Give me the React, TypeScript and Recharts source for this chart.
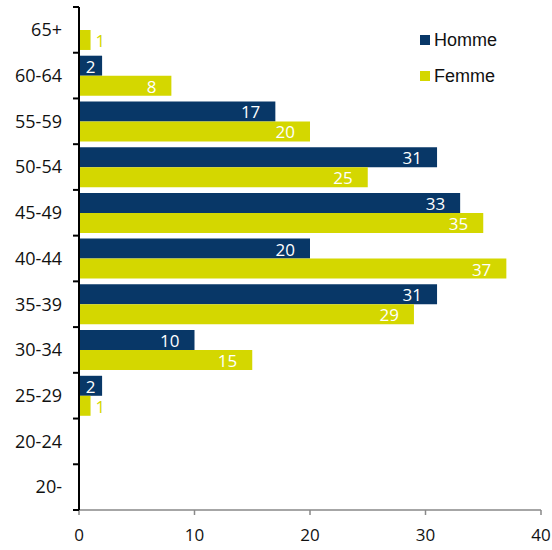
import { BarChart, Bar, XAxis, YAxis, LabelList, Legend } from 'recharts';

const categories = ['65+', '60-64', '55-59', '50-54', '45-49', '40-44', '35-39', '30-34', '25-29', '20-24', '20-'];
const homme = [0, 2, 17, 31, 33, 20, 31, 10, 2, 0, 0];
const femme = [1, 8, 20, 25, 35, 37, 29, 15, 1, 0, 0];
const xTicks = [0, 10, 20, 30, 40];

const HOMME_COLOR = '#083767';
const FEMME_COLOR = '#d4d700';

const data = categories.map((c, i) => ({ age: c, homme: homme[i], femme: femme[i] }));

const labelFont = '"Open Sans", sans-serif';

function makeLabel(barColor: string) {
  return (props: any) => {
    const { x, y, width, height, value } = props;
    if (!value) return null;
    const textW = String(value).length * 9.5;
    const baseY = y + height / 2 + 7;
    // too short to fit the label inside: put it right of the bar
    if (width < textW + 4) {
      return (
        <text x={x + width + 5} y={baseY} fill={barColor} fontSize={17} fontFamily={labelFont} textAnchor="start">
          {value}
        </text>
      );
    }
    let tx = x + width - 15;
    let anchor = 'end';
    if (tx - textW < x) {
      tx = x + width / 2;
      anchor = 'middle';
    }
    return (
      <text x={tx} y={baseY} fill="#ffffff" fontSize={17} fontFamily={labelFont} textAnchor={anchor}>
        {value}
      </text>
    );
  };
}

// category label + tick marks on the band boundaries
function AgeTick(props: any) {
  const { x, y, payload, index, visibleTicksCount } = props;
  const half = payload.offset || 0;
  const axisX = x + 17;
  const last = index === (visibleTicksCount ?? categories.length) - 1;
  return (
    <g>
      <line x1={axisX - 6} x2={axisX} y1={y - half} y2={y - half} stroke="#000" strokeWidth={2} />
      {last && <line x1={axisX - 6} x2={axisX} y1={y + half} y2={y + half} stroke="#000" strokeWidth={2} />}
      <text x={x} y={y} dy="0.35em" textAnchor="end" fill="#111" fontSize={18} fontFamily={labelFont}>
        {payload.value}
      </text>
    </g>
  );
}

function LegendBox() {
  const items = [
    { name: 'Homme', color: HOMME_COLOR },
    { name: 'Femme', color: FEMME_COLOR },
  ];
  return (
    <div>
      {items.map((it) => (
        <div key={it.name} style={{ display: 'flex', alignItems: 'center', height: 36 }}>
          <span style={{ width: 10, height: 10, background: it.color, marginRight: 4, display: 'inline-block' }} />
          <span style={{ fontFamily: '"Liberation Sans", Arial, sans-serif', fontSize: 18, color: '#111' }}>{it.name}</span>
        </div>
      ))}
    </div>
  );
}

export default function App() {
  return (
    <>
      <style>{'html, body { margin: 0; padding: 0; overflow: hidden; }'}</style>
      <BarChart
        width={552}
        height={550}
        data={data}
        layout="vertical"
        margin={{ top: 7, right: 11, bottom: 0, left: 8 }}
        barCategoryGap="6.5%"
        barGap={0}
      >
        <XAxis
          type="number"
          domain={[0, 40]}
          ticks={xTicks}
          stroke="#898989"
          strokeWidth={1.5}
          tickSize={5}
          tickMargin={14}
          tick={{ fill: '#111', fontSize: 17, fontFamily: labelFont }}
          height={40}
        />
        <YAxis
          type="category"
          dataKey="age"
          width={71}
          axisLine={{ stroke: '#000', strokeWidth: 2 }}
          tickLine={false}
          tickSize={5}
          tickMargin={12}
          interval={0}
          tick={<AgeTick />}
        />
        <Legend
          layout="vertical"
          align="center"
          verticalAlign="middle"
          wrapperStyle={{ top: 22, left: 420, width: 120 }}
          content={() => <LegendBox />}
        />
        <Bar dataKey="homme" name="Homme" fill={HOMME_COLOR} isAnimationActive={false}>
          <LabelList dataKey="homme" content={makeLabel(HOMME_COLOR)} />
        </Bar>
        <Bar dataKey="femme" name="Femme" fill={FEMME_COLOR} isAnimationActive={false}>
          <LabelList dataKey="femme" content={makeLabel(FEMME_COLOR)} />
        </Bar>
      </BarChart>
    </>
  );
}
